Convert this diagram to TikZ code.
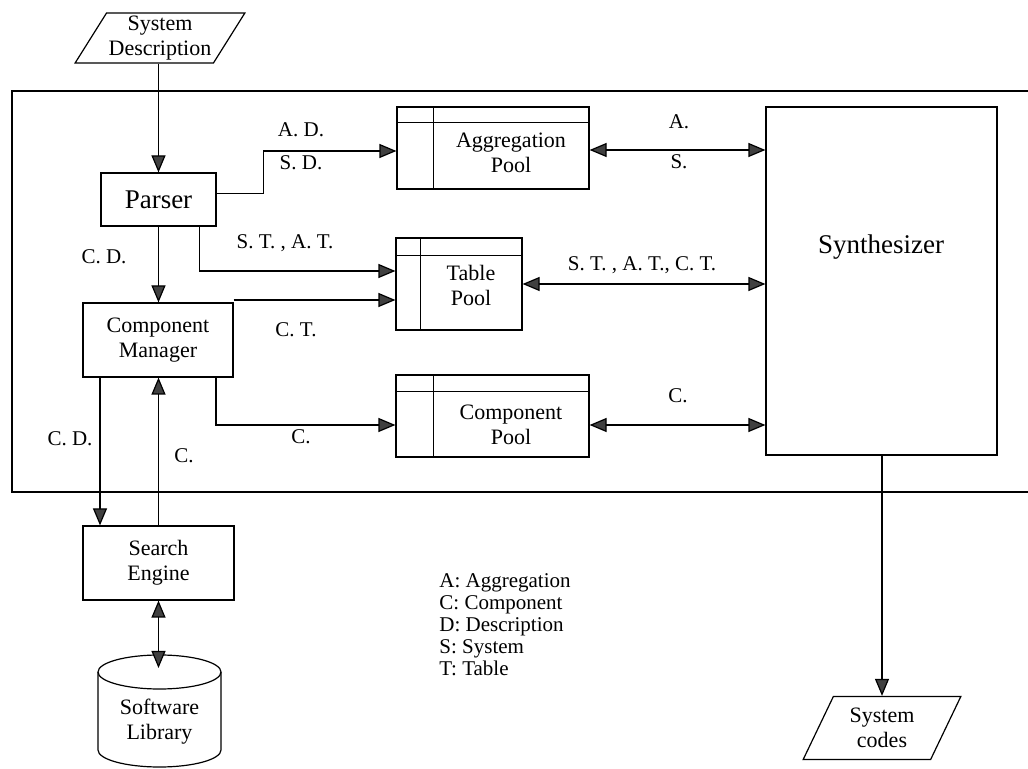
\documentclass[tikz,border=0pt]{standalone}
\usepackage{fontspec}
\setmainfont{Liberation Serif}
\usetikzlibrary{positioning,arrows.meta,shapes.geometric,calc}

\begin{document}
\begin{tikzpicture}[
  x=0.5pt, y=-0.5pt,
  font=\fontsize{11}{12.5}\selectfont,
  >={Triangle[length=8.5pt,width=7pt,fill=black!75]},
  proc/.style={draw, line width=0.6pt, align=center, inner sep=2pt},
  pool/.style={draw, line width=0.6pt, inner sep=0pt},
  io/.style={trapezium, trapezium stretches=true, draw, line width=0.6pt,
             align=center, inner sep=1pt},
  flow/.style={->, line width=0.6pt},
  bi/.style={<->, line width=0.6pt},
  lbl/.style={font=\fontsize{10.5}{12}\selectfont, inner sep=1pt},
  big/.style={font=\fontsize{13.5}{15}\selectfont},
]
\useasboundingbox (0,0) rectangle (1028,769);
% outer frame (open to the right)
\draw[line width=1.2pt] (1028,91) -- (12,91) -- (12,492) -- (1028,492);

% input / output
\node[io, trapezium left angle=57, trapezium right angle=123,
      minimum width=85pt, minimum height=25pt] (sd) at (160,38) {System\\Description};
\node[io, trapezium left angle=64, trapezium right angle=116,
      minimum width=79pt, minimum height=31.5pt] (sc) at (882,728) {System\\codes};

% processing blocks
\node[proc, big, minimum width=57.5pt, minimum height=26.5pt] (parser) at (158.5,199.5) {Parser};
\node[proc, minimum width=75pt, minimum height=37pt] (cm) at (158,340) {Component\\Manager};
\node[proc, minimum width=75.5pt, minimum height=37pt] (se) at (158.5,563) {Search\\Engine};
\node[proc, minimum width=115.5pt, minimum height=174pt] (syn) at (881.5,281) {};
\node[big] (syntxt) at (881,247) {Synthesizer};

% pools
\node[pool, minimum width=96pt, minimum height=41pt] (ap) at (493,148) {};
\node[pool, minimum width=63pt, minimum height=46pt] (tp) at (459,284) {};
\node[pool, minimum width=96.5pt, minimum height=41pt] (cp) at (492.5,416) {};
\draw[line width=0.5pt] ([yshift=-8pt]ap.north west) -- ([yshift=-8pt]ap.north east);
\draw[line width=0.5pt] ([xshift=18.5pt]ap.north west) -- ([xshift=18.5pt]ap.south west);
\draw[line width=0.5pt] ([yshift=-9pt]tp.north west) -- ([yshift=-9pt]tp.north east);
\draw[line width=0.5pt] ([xshift=12.5pt]tp.north west) -- ([xshift=12.5pt]tp.south west);
\draw[line width=0.5pt] ([yshift=-8.5pt]cp.north west) -- ([yshift=-8.5pt]cp.north east);
\draw[line width=0.5pt] ([xshift=19pt]cp.north west) -- ([xshift=19pt]cp.south west);
\node[align=center] (aptxt) at (511,153) {Aggregation\\Pool};
\node[align=center] (tptxt) at (471,285) {Table\\Pool};
\node[align=center] (cptxt) at (511,425) {Component\\Pool};

% software library (cylinder)
\draw[line width=0.6pt] (98,672) -- (98,750)
  arc[start angle=180, end angle=360, x radius=30.75pt, y radius=8.5pt] -- (221,672);
\draw[line width=0.6pt] (159.5,672) ellipse[x radius=30.75pt, y radius=8.5pt];
\node[align=center] (lib) at (159.5,722) {Software\\Library};
\coordinate (libtop) at (158.5,668);

% connectors
\draw[flow] (parser.north |- sd.south) -- (parser.north);
\draw[flow] ([yshift=3pt]parser.east) -- ++(47,0) |- ([yshift=-1.5pt]ap.west);
\draw[flow] ([xshift=20.5pt]parser.south) |- ([yshift=6.5pt]tp.west);
\draw[flow] (parser.south) -- (parser.south |- cm.north);
\draw[flow] ([yshift=-8pt]tp.west -| cm.east) -- ([yshift=-8pt]tp.west);
\draw[flow] ([xshift=29pt]cm.south) |- ([yshift=-4.5pt]cp.west);
\draw[flow] ([xshift=-29pt]cm.south) -- ([xshift=-29pt]cm.south |- se.north);
\draw[flow] (se.north) -- (se.north |- cm.south);
\draw[bi] (se.south) -- (libtop);
\draw[bi] ([yshift=-1pt]ap.east) -- ([yshift=-1pt]ap.east -| syn.west);
\draw[bi] (tp.east) -- (tp.east -| syn.west);
\draw[bi] ([yshift=-4.5pt]cp.east) -- ([yshift=-4.5pt]cp.east -| syn.west);
\draw[flow] (sc.north |- syn.south) -- (sc.north);

% connector labels
\node[lbl] (lad) at (301,130) {A. D.};
\node[lbl] (lsd) at (301,163) {S. D.};
\node[lbl] (lstat) at (285,243) {S. T. , A. T.};
\node[lbl] (lcd1) at (104,257) {C. D.};
\node[lbl] (lct) at (296,330) {C. T.};
\node[lbl] (lc1) at (301,437) {C.};
\node[lbl] (lcd2) at (70,439) {C. D.};
\node[lbl] (lc2) at (184,456) {C.};
\node[lbl] (la) at (679,122) {A.};
\node[lbl] (ls) at (679,162) {S.};
\node[lbl] (lall) at (642,265) {S. T. , A. T., C. T.};
\node[lbl] (lc3) at (678,396) {C.};

% key
\node[lbl, align=left, anchor=north west, font=\fontsize{10.5}{11}\selectfont] (key) at (437,571)
  {A: Aggregation\\C: Component\\D: Description\\S: System\\T: Table};
\end{tikzpicture}
\end{document}
